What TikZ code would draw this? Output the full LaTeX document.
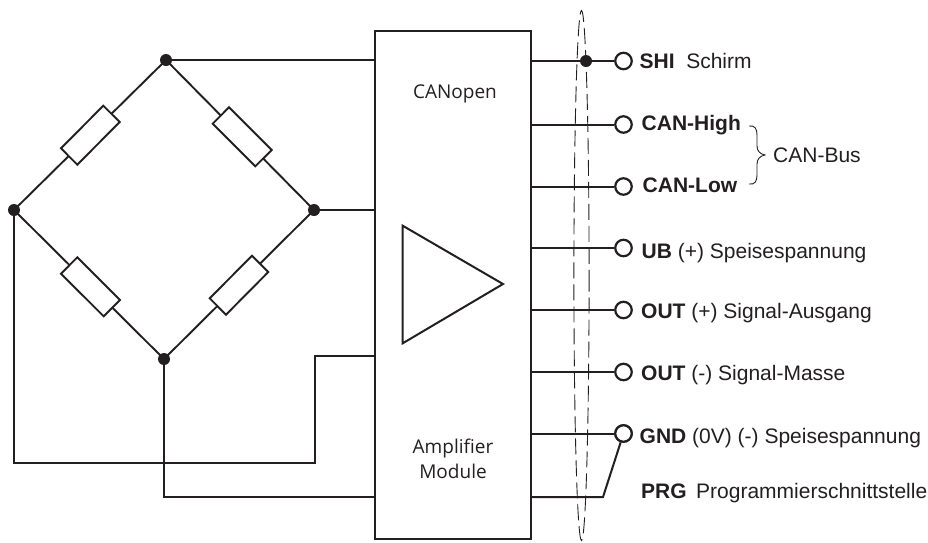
\documentclass[tikz,border=0pt]{standalone}
\usepackage{fontspec}
\setmainfont{Liberation Sans}
\newfontfamily\modfont{Open Sans}
\definecolor{ink}{HTML}{231F20}
\tikzset{x=1pt,y=-1pt,
 wire/.style={draw=ink,line width=2pt,line join=miter},
 resistor/.style={draw=ink,line width=1.9pt,fill=white},
 junction/.style={circle,fill=ink,inner sep=0pt,minimum size=12pt},
 terminal/.style={circle,draw=ink,line width=2.2pt,fill=white,inner sep=0pt,minimum size=16.5pt},
 lab/.style={anchor=base west,inner sep=0pt,font=\fontsize{21}{24}\selectfont,text=ink},
 mod/.style={align=center,inner sep=0pt,font=\modfont\fontsize{19}{25}\selectfont,text=ink}}
\begin{document}
\begin{tikzpicture}
\useasboundingbox (0,0) rectangle (928,542);
% bridge
\coordinate (nT) at (166,60);
\coordinate (nL) at (14,210);
\coordinate (nR) at (314,210);
\coordinate (nB) at (164,359);
\draw[wire,line width=1.9pt] (nT)--(nL)--(nB)--(nR)--cycle;
\draw[resistor] (103.3,105.7)--(119.7,122)--(77.3,164.7)--(61,148.3)--cycle;
\draw[resistor] (229,107.3)--(271.7,150)--(255.3,166.3)--(212.7,123.7)--cycle;
\draw[resistor] (77.3,257.3)--(120,300)--(103.7,316.3)--(61,273.7)--cycle;
\draw[resistor] (252,255.7)--(268.3,272)--(226,314.7)--(209.7,298.3)--cycle;
% module
\node[draw=ink,line width=2.2pt,minimum width=156pt,minimum height=508pt,inner sep=0pt] (box) at (453,285) {};
\draw[wire] (402.7,225.7)--(503,284)--(402.7,343.3)--cycle;
\node[mod,anchor=base] (t1) at (455,98.3) {CANopen};
\node[mod] (t2) at (453,459) {Amplifier\\Module};
% shield ellipse
\draw[ink,line width=0.9pt,dash pattern=on 16pt off 6pt] (581.5,275.5) ellipse [x radius=7.6,y radius=265];
% terminals
\foreach \n/\y in {shi/61,high/124.5,low/186.5,ub/248,outp/310,outm/372,gnd/433.5}
  \node[terminal] (\n) at (623.5,\y) {};
% wires
\draw[wire] (nT)--(box.west |- nT);
\draw[wire] (nR)--(box.west |- nR);
\coordinate (a1) at (315,463);
\coordinate (a2) at (315,356);
\coordinate (b1) at (164,497);
\draw[wire] (nL)--(14,463)--(a1)--(a2)--(box.west |- a2);
\draw[wire] (nB)--(b1)--(box.west |- b1);
\draw[wire] (box.east |- shi)--(shi);
\draw[wire] (box.east |- high)--(high);
\draw[wire] (box.east |- low)--(low);
\draw[wire] (box.east |- ub)--(ub);
\draw[wire] (box.east |- outp)--(outp);
\draw[wire] (box.east |- outm)--(outm);
\draw[wire] (box.east |- gnd)--(gnd);
\coordinate (p1) at (603,497);
\draw[wire] (box.east |- p1)--(p1)--(gnd);
\node[terminal] at (gnd) {};
% junctions
\foreach \n in {nT,nL,nR,nB} \node[junction] at (\n) {};
\node[junction] (js) at (586,61) {};
% labels
\node[lab] (l1) at (639.5,68.3) {\textbf{SHI}\hspace{0.55em}Schirm};
\node[lab] (l2) at (641.5,130.7) {\textbf{CAN-High}};
\node[lab] (l3) at (642.5,192.7) {\textbf{CAN-Low}};
\node[lab] (l4) at (641.5,258) {\textbf{UB} (+) Speisespannung};
\node[lab] (l5) at (641,318.5) {\textbf{OUT} (+) Signal-Ausgang};
\node[lab] (l6) at (641,380) {\textbf{OUT} (-) Signal-Masse};
\node[lab] (l7) at (639.5,443.3) {\textbf{GND} (0V) (-) Speisespannung};
\node[lab] (l8) at (641,498.3) {\textbf{PRG}\hspace{0.45em}Programmierschnittstelle};
\node[lab] (l9) at (773,162.3) {CAN-Bus};
\draw[ink,line width=0.9pt] (749,126) .. controls (755,125) and (757,129) .. (757,135) -- (757,146) .. controls (757,151) and (760,154) .. (765,155) .. controls (760,156) and (757,159) .. (757,164) -- (757,175) .. controls (757,181) and (755,185) .. (749,184);
\end{tikzpicture}
\end{document}
